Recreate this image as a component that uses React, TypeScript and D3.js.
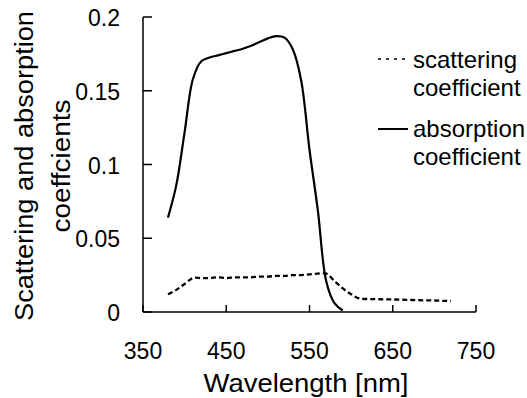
import * as d3 from 'd3'

const WIDTH = 527
const HEIGHT = 398
const MARGIN = {top: 17, right: 51, bottom: 86, left: 143}
const FONT = '"Liberation Sans", Arial, sans-serif'

const wavelengths = [
  380, 390, 400, 410, 420, 430, 440, 450, 460, 470, 480, 490, 500, 510, 520, 530, 540, 550, 560,
  570, 580, 590, 600, 610, 620, 630, 640, 650, 660, 670, 680, 690, 700, 710, 720,
]
const absorption = [
  0.064, 0.086, 0.122, 0.158, 0.17, 0.1725, 0.174, 0.1755, 0.177, 0.1785, 0.1805, 0.183, 0.1855,
  0.187, 0.186, 0.178, 0.157, 0.11, 0.069, 0.021, 0.006, 0.001,
]
const scattering = [
  0.012, 0.015, 0.019, 0.023, 0.023, 0.023, 0.0235, 0.023, 0.0235, 0.0235, 0.0235, 0.024, 0.024,
  0.0245, 0.0245, 0.025, 0.025, 0.0255, 0.026, 0.026, 0.021, 0.016, 0.012, 0.0092, 0.0088,
  0.0087, 0.0086, 0.0085, 0.0084, 0.0082, 0.008, 0.0079, 0.0078, 0.0076, 0.0075,
]
const xTicks = [350, 450, 550, 650, 750]
const yTicks = [0, 0.05, 0.1, 0.15, 0.2]
const yTickLabels = ['0', '0.05', '0.1', '0.15', '0.2']

export default function App() {
  const boundsWidth = WIDTH - MARGIN.left - MARGIN.right
  const boundsHeight = HEIGHT - MARGIN.top - MARGIN.bottom

  const xScale = d3.scaleLinear().domain([350, 750]).range([0, boundsWidth])
  const yScale = d3.scaleLinear().domain([0, 0.2]).range([boundsHeight, 0])

  const line = d3
    .line<[number, number]>()
    .x(d => xScale(d[0]))
    .y(d => yScale(d[1]))
    .curve(d3.curveCatmullRom.alpha(0.5))

  const absPath = line(absorption.map((v, i) => [wavelengths[i], v] as [number, number]))
  const scatPath = line(scattering.map((v, i) => [wavelengths[i], v] as [number, number]))

  return (
    <svg
      width={WIDTH}
      height={HEIGHT}
      style={{position: 'absolute', left: 0, top: 0, background: '#fff'}}
      fontFamily={FONT}>
      <g transform={`translate(${MARGIN.left},${MARGIN.top})`}>
        {/* data */}
        <path d={scatPath || ''} fill="none" stroke="#000" strokeWidth={2.3} strokeDasharray="5,3" />
        <path d={absPath || ''} fill="none" stroke="#000" strokeWidth={2.2} />

        {/* axes */}
        <line x1={0} x2={0} y1={0} y2={boundsHeight} stroke="#000" strokeWidth={1.5} />
        <line x1={0} x2={boundsWidth} y1={boundsHeight} y2={boundsHeight} stroke="#000" strokeWidth={1.5} />
        {yTicks.map((t, i) => (
          <g key={i}>
            <line x1={0} x2={9} y1={yScale(t)} y2={yScale(t)} stroke="#000" strokeWidth={1.5} />
            <text x={-23} y={yScale(t) + 9} textAnchor="end" fontSize={23}>
              {yTickLabels[i]}
            </text>
          </g>
        ))}
        {xTicks.map(t => (
          <g key={t}>
            <line
              x1={xScale(t)}
              x2={xScale(t)}
              y1={boundsHeight}
              y2={boundsHeight - 7}
              stroke="#000"
              strokeWidth={1.5}
            />
            <text x={xScale(t)} y={boundsHeight + 47} textAnchor="middle" fontSize={23}>
              {t}
            </text>
          </g>
        ))}
      </g>

      {/* axis titles - reference font is a bit wider than Liberation, so stretch */}
      <text
        x={306}
        y={392}
        textAnchor="middle"
        fontSize={25}
        textLength={205}
        lengthAdjust="spacingAndGlyphs">
        Wavelength [nm]
      </text>
      <g transform="translate(33,166) rotate(-90)">
        <text x={0} y={0} textAnchor="middle" fontSize={25} textLength={310} lengthAdjust="spacingAndGlyphs">
          Scattering and absorption
        </text>
        <text x={0} y={37} textAnchor="middle" fontSize={25} textLength={133} lengthAdjust="spacingAndGlyphs">
          coeffcients
        </text>
      </g>

      {/* legend */}
      <line x1={378} x2={408} y1={59} y2={59} stroke="#000" strokeWidth={1.5} strokeDasharray="3,5" />
      <text x={413} y={68} fontSize={24}>scattering</text>
      <text x={413} y={96} fontSize={24}>coefficient</text>
      <line x1={378} x2={408} y1={129} y2={129} stroke="#000" strokeWidth={2} />
      <text x={413} y={137} fontSize={24}>absorption</text>
      <text x={413} y={165} fontSize={24}>coefficient</text>
    </svg>
  )
}
